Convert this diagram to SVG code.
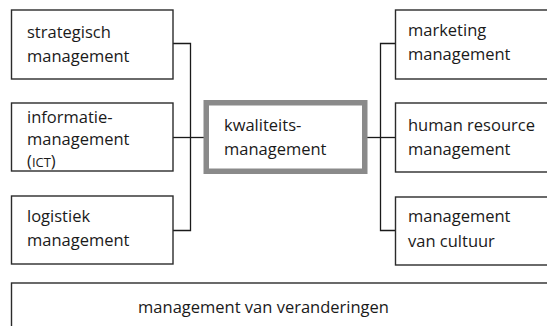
<svg xmlns="http://www.w3.org/2000/svg" width="547" height="326" viewBox="0 0 547 326">
<style>
.box{fill:#fff;stroke:#2b2b2b;stroke-width:1.4}
.main{fill:#fff;stroke:#8a8a8a;stroke-width:5.5}
.conn{fill:none;stroke:#1a1a1a;stroke-width:1.3}
text{font-family:"Open Sans","DejaVu Sans",sans-serif;font-size:16.5px;fill:#1a1a1a}
.sc{font-size:13px}
</style>
<rect width="547" height="326" fill="#fff"/>
<g id="connectors">
<polyline class="conn" points="173,43.5 190.5,43.5 190.5,230.5 173,230.5"/>
<line class="conn" x1="173" y1="137.5" x2="204" y2="137.5"/>
<polyline class="conn" points="396,43.5 380.5,43.5 380.5,230.5 396,230.5"/>
<line class="conn" x1="367" y1="137.5" x2="396" y2="137.5"/>
</g>
<g id="strategisch">
<rect class="box" x="11.5" y="10" width="161.5" height="69"/>
<text x="27" y="37.5">strategisch</text>
<text x="27" y="61.5">management</text>
</g>
<g id="informatie">
<rect class="box" x="11.5" y="103" width="161.5" height="68"/>
<text x="27" y="122.5">informatie-</text>
<text x="27" y="145">management</text>
<text x="27" y="167">(<tspan class="sc">ICT</tspan>)</text>
</g>
<g id="logistiek">
<rect class="box" x="11.5" y="196" width="161.5" height="68"/>
<text x="27" y="221.5">logistiek</text>
<text x="27" y="246">management</text>
</g>
<g id="kwaliteit">
<rect class="main" x="206.25" y="102.75" width="158.5" height="68.5"/>
<text x="224" y="131">kwaliteits-</text>
<text x="224" y="155">management</text>
</g>
<g id="marketing">
<rect class="box" x="395.5" y="10" width="160" height="69"/>
<text x="408" y="35.5">marketing</text>
<text x="408" y="60">management</text>
</g>
<g id="hrm">
<rect class="box" x="395.5" y="103" width="160" height="69"/>
<text x="408" y="130.5">human resource</text>
<text x="408" y="155">management</text>
</g>
<g id="cultuur">
<rect class="box" x="395.5" y="197" width="160" height="68"/>
<text x="408" y="222">management</text>
<text x="408" y="246.5">van cultuur</text>
</g>
<g id="veranderingen">
<rect class="box" x="11.5" y="283" width="545" height="60"/>
<text x="263.5" y="312.5" text-anchor="middle">management van veranderingen</text>
</g>
</svg>
